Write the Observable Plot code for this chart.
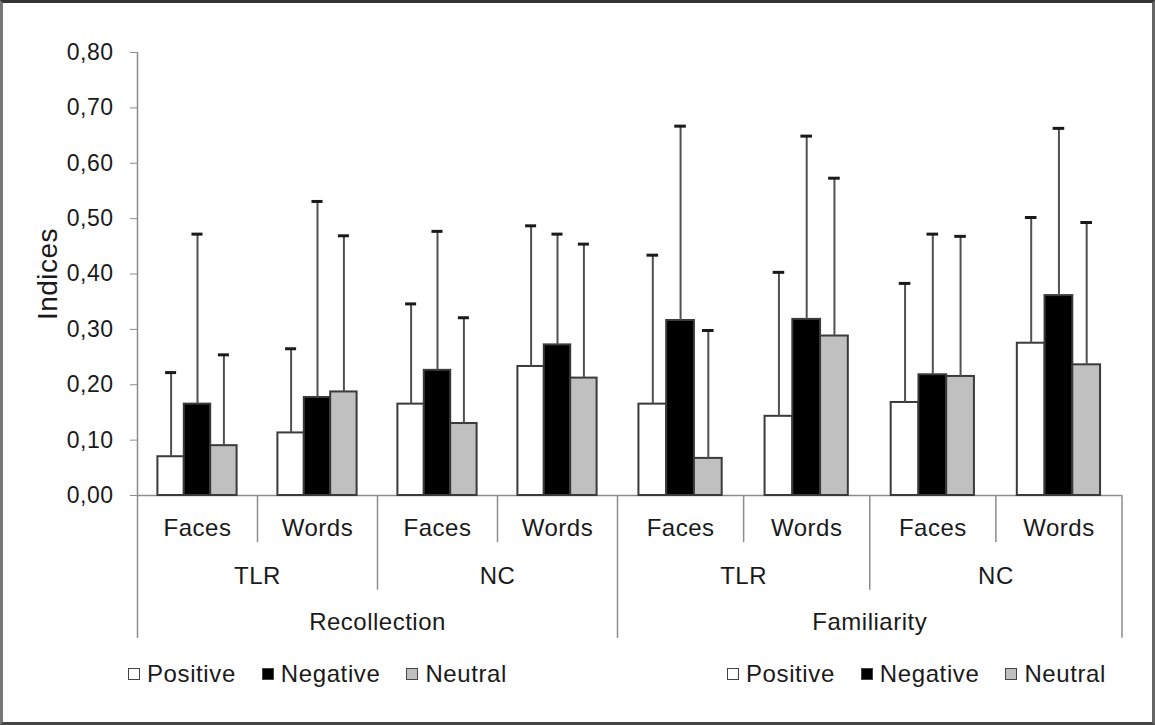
<!DOCTYPE html>
<html>
<head>
<meta charset="utf-8">
<script src="https://cdn.jsdelivr.net/npm/d3@7"></script>
<script src="https://cdn.jsdelivr.net/npm/@observablehq/plot@0.6"></script>
<style>
  html, body { margin: 0; padding: 0; background: #fff; }
  #wrap { position: relative; width: 1155px; height: 725px; overflow: hidden;
          font-family: "Liberation Sans", Arial, sans-serif; background: #fff; }
  #chart { position: absolute; left: 0; top: 0; }
  #chart svg text { letter-spacing: 0.5px; }
  #frame { position: absolute; left: 0; top: 0; width: 1155px; height: 725px; box-sizing: border-box;
           border-top: 3px solid #333; border-bottom: 3px solid #444;
           border-left: 3px solid #777; border-right: 3px solid #666; pointer-events: none; }
  .legend { position: absolute; top: 660px; display: flex; align-items: center;
            font-size: 24px; color: #1a1a1a; letter-spacing: 0.6px; }
  .legend .item { display: flex; align-items: center; margin-right: 26px; }
  .legend .sw { width: 10px; height: 10px; border: 1.5px solid #444; margin-right: 7px; }
</style>
</head>
<body>
<div id="wrap">
  <div id="chart"></div>
  <div id="legendLeft" class="legend" style="left:128px"></div>
  <div id="legendRight" class="legend" style="left:727px"></div>
  <div id="frame"></div>
</div>
<script>
// ---- data ----
const measures = ["Recollection", "Recollection", "Recollection", "Recollection",
                  "Familiarity", "Familiarity", "Familiarity", "Familiarity"];
const groups   = ["TLR", "TLR", "NC", "NC", "TLR", "TLR", "NC", "NC"];
const stimuli  = ["Faces", "Words", "Faces", "Words", "Faces", "Words", "Faces", "Words"];
const emotions = ["Positive", "Negative", "Neutral"];

const positiveMean = [0.070, 0.113, 0.165, 0.233, 0.165, 0.143, 0.168, 0.275];
const positiveSD   = [0.152, 0.152, 0.181, 0.254, 0.269, 0.260, 0.215, 0.227];
const negativeMean = [0.165, 0.177, 0.226, 0.272, 0.316, 0.318, 0.218, 0.361];
const negativeSD   = [0.307, 0.354, 0.251, 0.200, 0.351, 0.331, 0.254, 0.302];
const neutralMean  = [0.090, 0.187, 0.130, 0.212, 0.067, 0.288, 0.215, 0.236];
const neutralSD    = [0.164, 0.282, 0.191, 0.242, 0.231, 0.285, 0.253, 0.257];

const yTicks = [0, 0.1, 0.2, 0.3, 0.4, 0.5, 0.6, 0.7, 0.8];
const yLabel = "Indices";
const fillColors = ["#ffffff", "#000000", "#c0c0c0"];

// ---- table built from the arrays ----
const means = [positiveMean, negativeMean, neutralMean];
const sds = [positiveSD, negativeSD, neutralSD];
const BAR = 0.22, PAD = (1 - 3 * BAR) / 2, CAP = 0.046;
const rows = [];
stimuli.forEach((s, i) => emotions.forEach((e, j) => {
  const x1 = i + PAD + j * BAR;
  rows.push({i, emotion: e, mean: means[j][i], sd: sds[j][i], x1, x2: x1 + BAR, xc: x1 + BAR / 2});
}));
const tier1 = stimuli.map((s, i) => ({label: s, x: i + 0.5}));
const tier2 = groups.filter((g, i) => i % 2 === 0).map((g, k) => ({label: g, x: 2 * k + 1}));
const tier3 = measures.filter((m, i) => i % 4 === 0).map((m, k) => ({label: m, x: 4 * k + 2}));
const div1 = [1, 3, 5, 7], div2 = [2, 6], div3 = [0, 4, 8];

const fmt = d => d.toFixed(2).replace(".", ",");
const txt = "#1a1a1a", axisGrey = "#8c8c8c";

const chart = Plot.plot({
  width: 1155,
  height: 650,
  marginLeft: 137,
  marginRight: 33,
  marginTop: 52,
  marginBottom: 155,
  style: {fontFamily: '"Liberation Sans", Arial, sans-serif', fontSize: "23px", color: txt, background: "transparent"},
  x: {type: "linear", domain: [0, 4, 8], range: [137, 617, 1121.5], axis: null},
  y: {domain: [0, 0.8], axis: null},
  color: {domain: emotions, range: fillColors},
  marks: [
    // axis lines
    Plot.ruleY([0], {x1: 0, x2: 8, stroke: axisGrey, strokeWidth: 1.5}),
    Plot.ruleX([0], {y1: 0, y2: 0.8, stroke: axisGrey, strokeWidth: 1.5}),
    Plot.axisY({ticks: yTicks, tickFormat: fmt, tickSize: 7, tickPadding: 17,
                stroke: axisGrey, fill: txt, fontSize: 23, label: null}),
    // category divider lines below the axis
    Plot.ruleX(div1, {x: d => d, y1: 0, y2: -0.085, stroke: axisGrey, strokeWidth: 1.5}),
    Plot.ruleX(div2, {x: d => d, y1: 0, y2: -0.171, stroke: axisGrey, strokeWidth: 1.5}),
    Plot.ruleX(div3, {x: d => d, y1: 0, y2: -0.258, stroke: axisGrey, strokeWidth: 1.5}),
    // bars
    Plot.rect(rows, {x1: "x1", x2: "x2", y1: 0, y2: "mean", fill: "emotion",
                     stroke: "#3a3a3a", strokeWidth: 2}),
    // error bars (upper only)
    Plot.ruleX(rows, {x: "xc", y1: "mean", y2: d => d.mean + d.sd, stroke: "#505050", strokeWidth: 2}),
    Plot.ruleY(rows, {y: d => d.mean + d.sd, x1: d => d.xc - CAP, x2: d => d.xc + CAP,
                      stroke: "#1a1a1a", strokeWidth: 3}),
    // hierarchical category labels
    Plot.text(tier1, {x: "x", y: 0, dy: 33, text: "label", fontSize: 24, fill: txt}),
    Plot.text(tier2, {x: "x", y: 0, dy: 81, text: "label", fontSize: 24, fill: txt}),
    Plot.text(tier3, {x: "x", y: 0, dy: 127, text: "label", fontSize: 24, fill: txt}),
    // y label
    Plot.text([yLabel], {x: 0, y: 0.4, text: d => d, rotate: -90, dx: -89, fontSize: 28, fill: txt})
  ]
});
document.getElementById("chart").appendChild(chart);

// ---- legends ----
function buildLegend(el) {
  emotions.forEach((e, j) => {
    const item = document.createElement("div");
    item.className = "item";
    const sw = document.createElement("div");
    sw.className = "sw";
    sw.style.background = fillColors[j];
    const label = document.createElement("span");
    label.textContent = e;
    item.appendChild(sw);
    item.appendChild(label);
    el.appendChild(item);
  });
}
buildLegend(document.getElementById("legendLeft"));
buildLegend(document.getElementById("legendRight"));
</script>
</body>
</html>
